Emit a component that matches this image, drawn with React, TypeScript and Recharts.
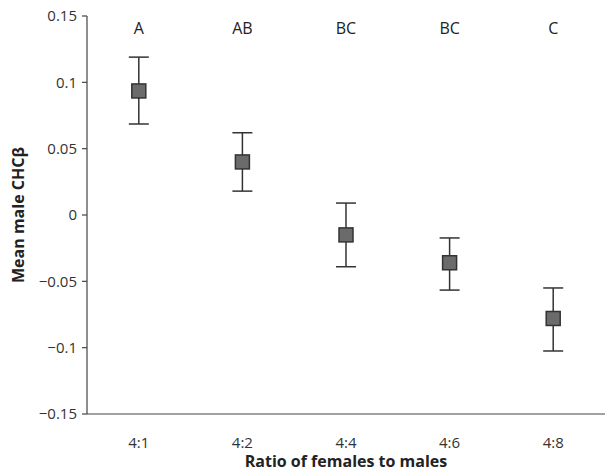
import { ComposedChart, Scatter, XAxis, YAxis, ErrorBar, ReferenceDot } from 'recharts';

const ratios = ['4:1', '4:2', '4:4', '4:6', '4:8'];
const means = [0.0935, 0.040, -0.015, -0.036, -0.078];
const upper = [0.119, 0.062, 0.009, -0.0173, -0.055];
const lower = [0.0686, 0.018, -0.039, -0.0566, -0.1025];
const letters = ['A', 'AB', 'BC', 'BC', 'C'];
const yTicks = [-0.15, -0.1, -0.05, 0, 0.05, 0.1, 0.15];
const boundaryTicks = [0, 1, 2, 3, 4, 5];

const FONT = '"Open Sans", "Noto Sans", sans-serif';
const AXIS = '#444';

const data = ratios.map((r, i) => ({
  pos: i + 0.5,
  ratio: r,
  mean: means[i],
  err: [means[i] - lower[i], upper[i] - means[i]],
}));

const fmtY = (v: number) => {
  if (v === 0) return '0';
  const s = String(Math.abs(v));
  return v < 0 ? '\u2212' + s : s;
};

const SquareMark = (props: any) => {
  const { cx, cy } = props;
  return <rect x={cx - 7} y={cy - 7} width={14} height={14} fill="#6b6b6b" stroke="#333" strokeWidth={1.5} />;
};

export default function App() {
  return (
    <div style={{ position: 'absolute', left: 0, top: 0, background: '#fff' }}>
      <ComposedChart width={605} height={473} data={data} margin={{ top: 16, right: 0, bottom: 0, left: 0 }}>
        {/* boundary tick marks between categories, closest to the plot */}
        <XAxis
          xAxisId={0}
          type="number"
          dataKey="pos"
          domain={[0, 5]}
          ticks={boundaryTicks}
          tick={false}
          tickSize={6}
          height={8}
          axisLine={{ stroke: AXIS, strokeWidth: 1.2 }}
          tickLine={{ stroke: AXIS, strokeWidth: 1.2 }}
        />
        {/* category labels centred in each band */}
        <XAxis
          xAxisId={1}
          type="number"
          dataKey="pos"
          domain={[0, 5]}
          ticks={data.map((d) => d.pos)}
          tickFormatter={(v: number) => ratios[Math.floor(v)]}
          axisLine={false}
          tickLine={false}
          tickSize={0}
          tickMargin={15}
          height={51}
          tick={{ fill: '#333', fontSize: 15, fontFamily: FONT }}
          label={{ value: 'Ratio of females to males', position: 'insideBottom', offset: 6, fill: '#222', fontSize: 16, fontWeight: 700, fontFamily: FONT }}
        />
        <YAxis
          type="number"
          domain={[-0.15, 0.15]}
          ticks={yTicks}
          tickFormatter={fmtY}
          width={87}
          tickSize={5}
          tickMargin={5}
          axisLine={{ stroke: AXIS, strokeWidth: 1.2 }}
          tickLine={{ stroke: AXIS, strokeWidth: 1.2 }}
          tick={{ fill: '#333', fontSize: 15, fontFamily: FONT }}
          label={{ value: 'Mean male CHCβ', angle: -90, position: 'insideLeft', offset: 18, style: { textAnchor: 'middle' }, fill: '#222', fontSize: 16, fontWeight: 700, fontFamily: FONT }}
        />
        <Scatter xAxisId={1} dataKey="mean" shape={SquareMark} isAnimationActive={false}>
          <ErrorBar dataKey="err" direction="y" width={10} stroke="#333" strokeWidth={1.5} />
        </Scatter>
        {data.map((d, i) => (
          <ReferenceDot
            key={d.ratio}
            xAxisId={1}
            x={d.pos}
            y={0.141}
            r={0}
            fill="none"
            stroke="none"
            label={{ value: letters[i], position: 'center', fill: '#222', fontSize: 16, fontFamily: FONT }}
          />
        ))}
      </ComposedChart>
    </div>
  );
}
